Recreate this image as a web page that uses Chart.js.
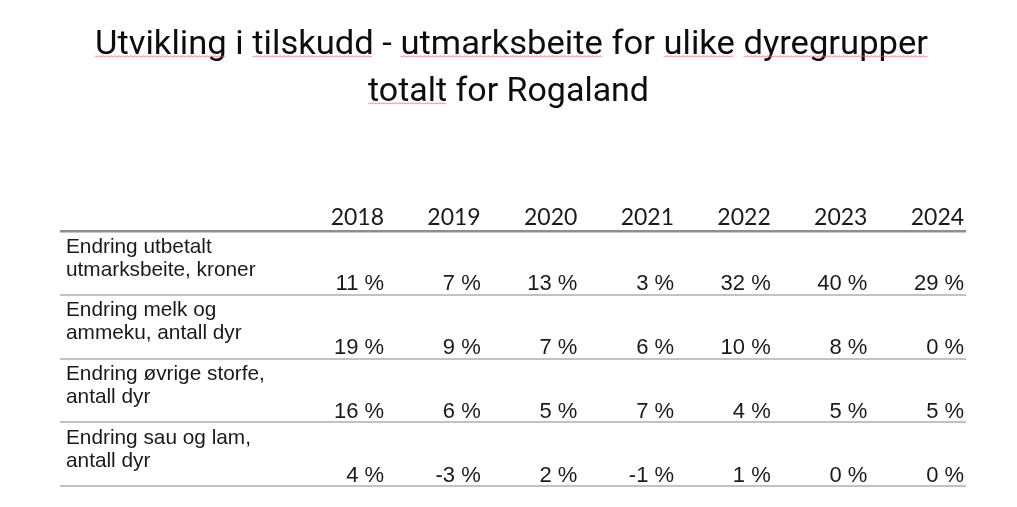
<!DOCTYPE html>
<html lang="no">
<head>
<meta charset="utf-8">
<title>Utvikling i tilskudd - utmarksbeite</title>
<script src="https://cdn.jsdelivr.net/npm/chart.js@4.4.1/dist/chart.umd.min.js"></script>
<style>
  html, body { margin: 0; padding: 0; background: #ffffff; }
  #wrap { width: 1017px; height: 507px; }
</style>
</head>
<body>
<div id="wrap"><canvas id="tabell" width="1017" height="507"></canvas></div>
<script>
// Tabelldata (lest av bildet)
const titleLines = ['Utvikling i tilskudd - utmarksbeite for ulike dyregrupper', 'totalt for Rogaland'];
const underlinedWords = [['Utvikling', 'tilskudd', 'utmarksbeite', 'ulike', 'dyregrupper'], ['totalt']];
const years = ['2018', '2019', '2020', '2021', '2022', '2023', '2024'];
const rowLabels = [
  ['Endring utbetalt', 'utmarksbeite, kroner'],
  ['Endring melk og', 'ammeku, antall dyr'],
  ['Endring øvrige storfe,', 'antall dyr'],
  ['Endring sau og lam,', 'antall dyr']
];
const utbetalt = [11, 7, 13, 3, 32, 40, 29];
const melkAmmeku = [19, 9, 7, 6, 10, 8, 0];
const ovrigeStorfe = [16, 6, 5, 7, 4, 5, 5];
const sauLam = [4, -3, 2, -1, 1, 0, 0];

const rows = [utbetalt, melkAmmeku, ovrigeStorfe, sauLam];

const TEXT = '#1a1a1a';
const LINE_HEAD = '#8e8e8e';
const LINE_ROW = '#c2c2c2';

// Tittel med rød "stavekontroll"-strek under enkelte ord
const titlePlugin = {
  id: 'tittel',
  afterDraw(chart) {
    const ctx = chart.ctx;
    const spec = [
      { cx: 511.5, base: 53.5, w: 833 },
      { cx: 508.5, base: 100.5, w: 281 }
    ];
    ctx.save();
    ctx.font = '32.5px Roboto';
    ctx.textBaseline = 'alphabetic';
    ctx.textAlign = 'left';
    titleLines.forEach((line, li) => {
      const s = spec[li];
      const natural = ctx.measureText(line).width;
      const sx = s.w / natural;
      const x0 = s.cx - s.w / 2;
      ctx.save();
      ctx.translate(x0, s.base);
      ctx.scale(sx, 1);
      ctx.fillStyle = '#0d0d0d';
      ctx.fillText(line, 0, 0);
      ctx.restore();

      // bølgestrek
      ctx.strokeStyle = 'rgba(232, 96, 110, 0.55)';
      ctx.lineWidth = 1.2;
      let from = 0;
      underlinedWords[li].forEach(word => {
        const idx = line.indexOf(word, from);
        from = idx + word.length;
        const a = x0 + ctx.measureText(line.slice(0, idx)).width * sx;
        const b = x0 + ctx.measureText(line.slice(0, idx + word.length)).width * sx;
        const y = s.base + 2.5;
        ctx.beginPath();
        for (let x = a, k = 0; x <= b; x += 2, k++) {
          const yy = y + (k % 2 ? 0.8 : 0);
          if (k === 0) ctx.moveTo(x, yy); else ctx.lineTo(x, yy);
        }
        ctx.stroke();
      });
    });
    ctx.restore();
  }
};

// Skriver årstall, prosentverdier og radtekster på punktene fra skalaene
const cellPlugin = {
  id: 'celler',
  afterDatasetsDraw(chart) {
    const ctx = chart.ctx;
    const yScale = chart.scales.y;
    const left = chart.chartArea.left;
    ctx.save();
    ctx.textBaseline = 'alphabetic';
    chart.data.datasets.forEach((ds, di) => {
      const meta = chart.getDatasetMeta(di);
      meta.data.forEach((pt, i) => {
        const raw = ds.data[i];
        ctx.textAlign = 'right';
        ctx.fillStyle = TEXT;
        if (ds.kind === 'head') {
          ctx.font = '23px Lato';
          ctx.fillText(raw.label, pt.x, pt.y - 6);
        } else {
          ctx.font = '22px "Liberation Sans", Arial';
          ctx.fillText(raw.v + ' %', pt.x, pt.y - 4.5);
        }
      });
    });
    // radtekster
    ctx.font = '20.8px "Liberation Sans", Arial';
    ctx.textAlign = 'left';
    ctx.fillStyle = TEXT;
    rowLabels.forEach((lines, r) => {
      const top = yScale.getPixelForValue(r);
      lines.forEach((t, k) => {
        ctx.fillText(t, left + 6, top + 21.5 + k * 23);
      });
    });
    ctx.restore();
  }
};

const datasets = [
  {
    kind: 'head',
    data: years.map((y, i) => ({ x: i, y: 0, label: y }))
  }
].concat(rows.map((vals, r) => ({
  kind: 'row',
  data: vals.map((v, i) => ({ x: i, y: r + 1, v: v }))
})));

new Chart(document.getElementById('tabell').getContext('2d'), {
  type: 'scatter',
  data: { datasets: datasets },
  options: {
    responsive: false,
    animation: false,
    events: [],
    layout: { padding: { top: 192.75, bottom: 21, left: 60, right: 51 } },
    elements: { point: { radius: 0, hoverRadius: 0 } },
    plugins: { legend: { display: false }, tooltip: { enabled: false }, title: { display: false } },
    scales: {
      x: { type: 'linear', min: -3.352, max: 6.02, display: false },
      y: {
        type: 'linear',
        reverse: true,
        min: -0.6,
        max: 4,
        afterBuildTicks: s => { s.ticks = [0, 1, 2, 3, 4].map(v => ({ value: v })); },
        ticks: { display: false },
        border: { display: false },
        grid: {
          drawTicks: false,
          color: c => (c.tick && c.tick.value === 0 ? LINE_HEAD : LINE_ROW),
          lineWidth: c => (c.tick && c.tick.value === 0 ? 2.5 : 2)
        }
      }
    }
  },
  plugins: [cellPlugin, titlePlugin]
});
</script>
</body>
</html>
